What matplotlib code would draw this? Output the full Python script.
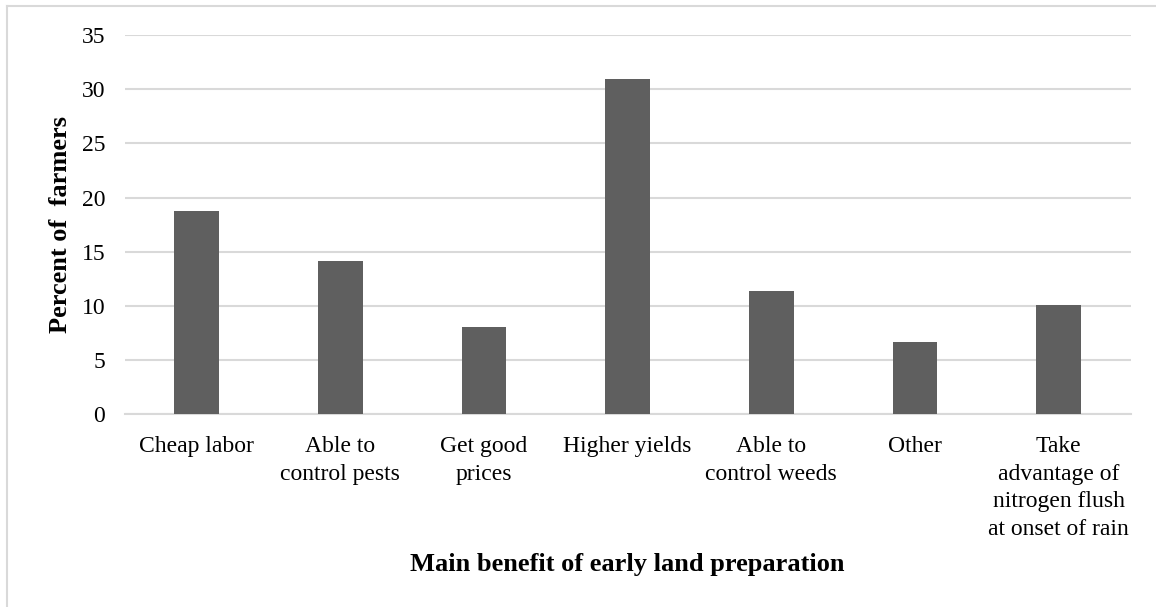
import matplotlib.pyplot as plt
from matplotlib.lines import Line2D

categories = ['Cheap labor', 'Able to\ncontrol pests', 'Get good\nprices',
              'Higher yields', 'Able to\ncontrol weeds', 'Other',
              'Take\nadvantage of\nnitrogen flush\nat onset of rain']
percent = [18.8, 14.1, 8.1, 30.9, 11.4, 6.7, 10.1]
yticks = [0, 5, 10, 15, 20, 25, 30, 35]

plt.rcParams['font.family'] = ['Liberation Serif', 'DejaVu Serif']

fig = plt.figure(figsize=(11.56, 6.07), dpi=100)
ax = fig.add_axes([0.1079, 0.3175, 0.8701, 0.6248])

x = range(len(categories))
ax.bar(x, percent, width=0.31, color='#5f5f5f', zorder=3)

ax.set_xlim(-0.5, len(categories) - 0.5)
ax.set_ylim(0, 35)
ax.set_yticks(yticks)
ax.set_xticks(list(x))
ax.set_xticklabels(categories, fontsize=17, linespacing=1.4)
ax.tick_params(axis='y', labelsize=17, length=0, pad=14)
ax.tick_params(axis='x', length=0, pad=16)

ax.grid(axis='y', color='#d9d9d9', linewidth=1.5, zorder=0)
for side in ['top', 'right', 'left']:
    ax.spines[side].set_visible(False)
ax.spines['bottom'].set_color('#d9d9d9')
ax.spines['bottom'].set_linewidth(1.5)

ax.set_ylabel('Percent of  farmers', fontsize=19, fontweight='bold', labelpad=7)
fig.text(627 / 1156, (607 - 564) / 607, 'Main benefit of early land preparation',
         fontsize=19, fontweight='bold', ha='center', va='center')

# light frame around the chart area
fig.add_artist(Line2D([7 / 1156, 7 / 1156], [0, 1 - 6 / 607],
                      color='#d9d9d9', linewidth=1.5))
fig.add_artist(Line2D([7 / 1156, 1], [1 - 6 / 607, 1 - 6 / 607],
                      color='#d9d9d9', linewidth=1.5))

fig.savefig('out.png', dpi=100)
